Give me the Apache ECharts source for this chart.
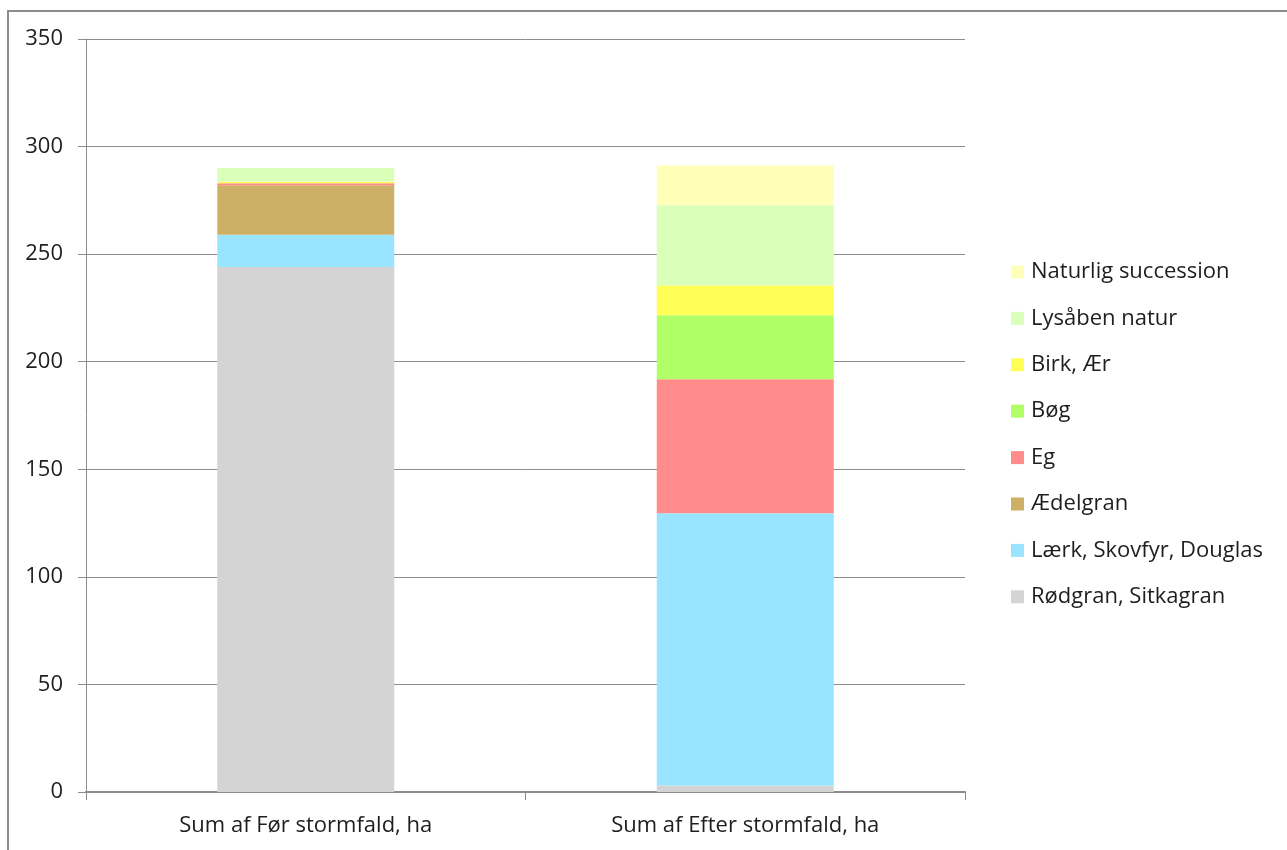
<!DOCTYPE html>
<html>
<head>
<meta charset="utf-8">
<script src="https://cdn.jsdelivr.net/npm/echarts@6/dist/echarts.min.js"></script>
<style>
  html, body { margin: 0; padding: 0; background: #fff; }
  #frame { position: absolute; left: 7px; top: 10px; width: 1300px; height: 900px;
           border: 2px solid #8c8c8c; box-sizing: border-box; }
  #chart { position: absolute; left: 0; top: 0; width: 1287px; height: 850px; }
</style>
</head>
<body>
<div id="frame"></div>
<div id="chart"></div>
<script>
// Areas (ha) per tree type, before and after the storm
const categories = ['Sum af Før stormfald, ha', 'Sum af Efter stormfald, ha'];
const seriesNames = ['Rødgran, Sitkagran', 'Lærk, Skovfyr, Douglas', 'Ædelgran', 'Eg', 'Bøg', 'Birk, Ær', 'Lysåben natur', 'Naturlig succession'];
const rodgran   = [244, 3];
const laerk     = [15, 126.6];
const aedelgran = [23, 0];
const eg        = [1, 62.3];
const bog       = [0, 29.7];
const birk      = [0.7, 13.8];
const lysaaben  = [6.3, 37.3];
const naturlig  = [0, 18.5];
const yTicks = { min: 0, max: 350, interval: 50 };

const values = [rodgran, laerk, aedelgran, eg, bog, birk, lysaaben, naturlig];
const colors = ['#d4d4d4', '#99e4ff', '#ccb066', '#ff8c8a', '#b0ff66', '#ffff55', '#d9ffb9', '#ffffb9'];

const chart = echarts.init(document.getElementById('chart'), null, { renderer: 'canvas' });
const font = '"Open Sans", Lato, sans-serif';
const textColor = '#1e1e1e';

chart.setOption({
  animation: false,
  textStyle: { fontFamily: font },
  grid: { left: 86, right: 322, top: 39, bottom: 58, containLabel: false },
  legend: {
    orient: 'vertical',
    left: 1006,
    top: 256,
    itemWidth: 13,
    itemHeight: 13,
    itemGap: 24.4,
    icon: 'rect',
    data: seriesNames.slice().reverse(),
    textStyle: { fontFamily: font, fontSize: 22, color: textColor, lineHeight: 22, padding: [0, 0, 0, 2] }
  },
  xAxis: {
    type: 'category',
    data: categories,
    axisLine: { lineStyle: { color: '#8c8c8c', width: 2 } },
    axisTick: { show: true, length: 8, lineStyle: { color: '#8c8c8c' } },
    axisLabel: { fontFamily: font, fontSize: 22, color: textColor, margin: 23 }
  },
  yAxis: {
    type: 'value',
    min: yTicks.min,
    max: yTicks.max,
    interval: yTicks.interval,
    axisLine: { show: true, lineStyle: { color: '#8c8c8c' } },
    axisTick: { show: true, length: 8, lineStyle: { color: '#8c8c8c' } },
    splitLine: { lineStyle: { color: '#8c8c8c', width: 1 } },
    axisLabel: { fontFamily: font, fontSize: 22, color: textColor, margin: 23 }
  },
  series: seriesNames.map((name, i) => ({
    name: name,
    type: 'bar',
    stack: 'total',
    barWidth: 177,
    itemStyle: { color: colors[i] },
    data: values[i]
  }))
});
</script>
</body>
</html>
